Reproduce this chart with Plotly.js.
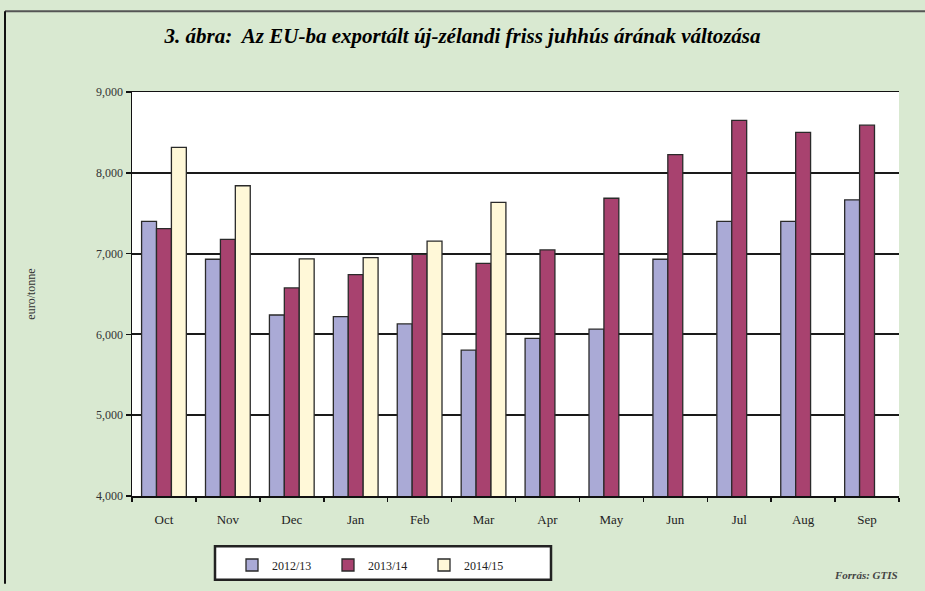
<!DOCTYPE html>
<html>
<head>
<meta charset="utf-8">
<script src="https://cdn.plot.ly/plotly-3.0.1.min.js"></script>
<style>html,body{margin:0;padding:0;background:#d9e9d1;}#chart{width:925px;height:591px;}</style>
</head>
<body>
<div id="chart"></div>
<script>
const months = ["Oct","Nov","Dec","Jan","Feb","Mar","Apr","May","Jun","Jul","Aug","Sep"];
const s2012 = [7400,6930,6240,6220,6130,5805,5950,6065,6930,7400,7400,7665];
const s2013 = [7310,7175,6575,6740,6990,6880,7045,7685,8225,8650,8500,8590];
const s2014 = [8315,7840,6935,6950,7155,7635,null,null,null,null,null,null];
const seriesNames = ["2012/13","2013/14","2014/15"];
const yTicks = [4000,5000,6000,7000,8000,9000];
const yTickText = ["4,000","5,000","6,000","7,000","8,000","9,000"];

const W = 925, H = 591;
const m = {l:132, r:26, t:92, b:89};
const pw = W - m.l - m.r, ph = H - m.t - m.b;
const px = x => (x - m.l) / pw;
const py = y => (H - m.b - y) / ph;
const SERIF = "Liberation Serif, Times New Roman, serif";

const colors = ["#aaaad6","#a8426f","#fff8d8"];
const data = [s2012, s2013, s2014].map((vals, i) => ({
  type: "bar",
  name: seriesNames[i],
  x: months,
  y: vals,
  marker: {color: colors[i], line: {color: "#2a2a2a", width: 1.3}}
}));

const layout = {
  width: W, height: H,
  margin: m,
  font: {family: SERIF},
  paper_bgcolor: "#d9e9d1",
  plot_bgcolor: "#ffffff",
  barmode: "group",
  bargap: 0.3,
  bargroupgap: 0,
  title: {
    text: "<b><i>3. ábra:  Az EU-ba exportált új-zélandi friss juhhús árának változása</i></b>",
    font: {family: SERIF, size: 21, color: "#000"},
    x: 0.5, xanchor: "center", y: 1 - 36/H, yanchor: "middle"
  },
  xaxis: {
    showgrid: false, showline: true, linecolor: "#111", linewidth: 1.5, mirror: true,
    ticks: "outside", tickson: "boundaries", ticklen: 4, tickcolor: "#111", tickwidth: 1.5,
    tickfont: {family: SERIF, size: 13, color: "#222"},
    ticklabelstandoff: 11,
    fixedrange: true
  },
  yaxis: {
    range: [4000, 9000],
    tickvals: yTicks, ticktext: yTickText,
    showgrid: true, gridcolor: "#1a1a1a", gridwidth: 2,
    showline: true, linecolor: "#111", linewidth: 1.5,
    ticks: "outside", ticklen: 5, tickcolor: "#111", tickwidth: 1.5,
    tickfont: {family: SERIF, size: 12, color: "#333"},
    zeroline: false,
    title: {text: "euro/tonne", font: {family: SERIF, size: 12, color: "#333"}, standoff: 58},
    fixedrange: true
  },
  showlegend: true,
  legend: {
    orientation: "h",
    x: px(232), xanchor: "left",
    y: py(572), yanchor: "middle",
    bgcolor: "rgba(0,0,0,0)", borderwidth: 0,
    entrywidth: 51, itemwidth: 30,
    font: {family: SERIF, size: 12, color: "#222"}
  },
  shapes: [
    {type: "rect", xref: "paper", yref: "paper", x0: px(215), x1: px(551), y0: py(553), y1: py(587),
     fillcolor: "#ffffff", line: {color: "#222", width: 2.5}, layer: "below"},
    {type: "line", xref: "paper", yref: "paper", x0: px(5), x1: px(925), y0: py(10), y1: py(10),
     line: {color: "#555", width: 2}},
    {type: "line", xref: "paper", yref: "paper", x0: px(5), x1: px(5), y0: py(10), y1: py(591),
     line: {color: "#111", width: 2}}
  ],
  annotations: [
    {text: "<b><i>Forrás: GTIS</i></b>", xref: "paper", yref: "paper", x: px(900), y: py(582),
     xanchor: "right", yanchor: "middle", showarrow: false,
     font: {family: SERIF, size: 11, color: "#444"}}
  ]
};

Plotly.newPlot("chart", data, layout, {displayModeBar: false, staticPlot: true});
</script>
</body>
</html>
